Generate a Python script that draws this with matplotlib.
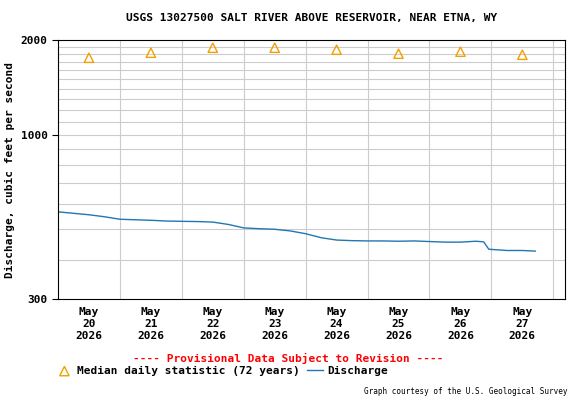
import matplotlib
matplotlib.use("Agg")
import matplotlib.pyplot as plt
import numpy as np
from matplotlib.ticker import FixedLocator, NullLocator

# Discharge, hours from May 20 00:00
q_hours = [0, 6, 12, 18, 24, 30, 36, 42, 48, 54, 60, 66, 72, 78, 84, 90, 96, 102,
           108, 114, 120, 126, 132, 138, 144, 150, 156, 162, 165, 167, 174, 180, 185]
q_vals = [568, 562, 556, 548, 538, 536, 534, 531, 530, 529, 527, 518, 505, 502, 500, 494,
          484, 470, 462, 460, 459, 459, 458, 459, 457, 455, 455, 458, 456, 432, 428, 428, 426]
median_days = [0.5, 1.5, 2.5, 3.5, 4.5, 5.5, 6.5, 7.5]
median_vals = [1756, 1822, 1890, 1890, 1863, 1809, 1836, 1795]
day_labels = ["May\n20\n2026", "May\n21\n2026", "May\n22\n2026", "May\n23\n2026",
              "May\n24\n2026", "May\n25\n2026", "May\n26\n2026", "May\n27\n2026"]

fm = dict(family="DejaVu Sans Mono", fontweight="bold")
fig = plt.figure(figsize=(5.76, 4.0), dpi=100)
ax = fig.add_axes([0.1007, 0.2525, 0.8803, 0.6475])
ax.set_yscale("log")
ax.set_ylim(300, 2000)
ax.set_xlim(0, 8.19)
line, = ax.plot(np.array(q_hours) / 24.0, q_vals, color="#1f77b4", lw=1)
sc = ax.scatter(median_days, median_vals, marker="^", s=45, facecolors="none",
                edgecolors="#f0a000", linewidths=1, zorder=3)
ax.yaxis.set_major_locator(FixedLocator([300, 1000, 2000]))
ax.yaxis.set_minor_locator(NullLocator())
ax.set_yticklabels(["300", "1000", "2000"], fontsize=8, **fm)
for v in range(400, 2000, 100):
    ax.axhline(v, color="#cccccc", lw=0.8, zorder=0)
for d in range(1, 9):
    ax.axvline(d, color="#cccccc", lw=0.8, zorder=0)
ax.set_xticks([d + 0.5 for d in range(8)])
ax.set_xticklabels(day_labels, fontsize=8, **fm)
ax.tick_params(axis="x", length=0, pad=6)
ax.tick_params(axis="y", length=4)
ax.set_ylabel("Discharge, cubic feet per second", fontsize=8, **fm)
ax.set_title("USGS 13027500 SALT RIVER ABOVE RESERVOIR, NEAR ETNA, WY", fontsize=8, pad=14, **fm)
fig.text(0.5, 0.095, "---- Provisional Data Subject to Revision ----", color="red",
         ha="center", fontsize=8, **fm)
fig.legend([sc, line], ["Median daily statistic (72 years)", "Discharge"], loc="lower left",
           bbox_to_anchor=(0.08, 0.035), ncol=2, frameon=False,
           prop=dict(family="DejaVu Sans Mono", weight="bold", size=8),
           handlelength=1.5, columnspacing=0.6, handletextpad=0.4)
fig.text(0.985, 0.015, "Graph courtesy of the U.S. Geological Survey", ha="right",
         fontsize=5.5, family="DejaVu Sans Mono")
fig.savefig("out.png", dpi=100)
